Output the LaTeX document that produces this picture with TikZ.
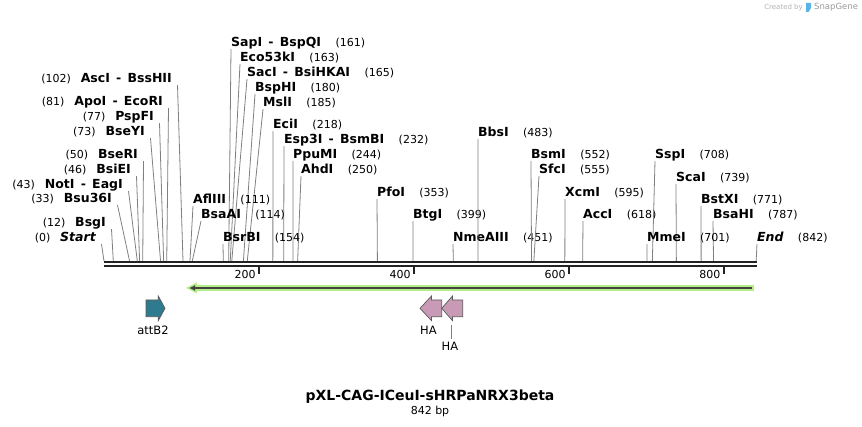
\documentclass[tikz,border=0pt]{standalone}
\usepackage{fontspec}
\setmainfont{DejaVu Sans}
\usetikzlibrary{arrows.meta}
\definecolor{attcol}{HTML}{2E7B8F}
\definecolor{hacol}{HTML}{C99AB5}
\definecolor{orfgreen}{HTML}{B4EE86}
\definecolor{seqline}{HTML}{222222}
\definecolor{snapblue}{HTML}{5AB4E6}
\begin{document}
\begin{tikzpicture}[x=1pt,y=-1pt,
    enz/.style={font=\bfseries\fontsize{12.5}{14}\selectfont,inner sep=0pt},
    num/.style={font=\fontsize{11}{13}\selectfont,inner sep=0pt},
    cut/.style={black!50,line width=0.8pt},
    feat/.style={draw=black!65,line width=0.7pt}]
\useasboundingbox (0,0) rectangle (862,427);
    %Marca de agua
    \node[font=\fontsize{7}{8}\selectfont,text=black!30,anchor=east,inner sep=0pt] (cby) at (803,7.5) {Created by};
    \fill[snapblue] (806,3) -- (811,3) -- (811,8) -- (808.5,12) -- (806,12) -- cycle;
    \node[font=\fontsize{8.5}{10}\selectfont,text=black!40,anchor=west,inner sep=0pt] (sg) at (814,7.5) {SnapGene};

    %Secuencia
    \draw[seqline,line width=2.8pt] (104,262) -- (757,262);
    \draw[seqline,line width=2.8pt] (104,266) -- (757,266);
    \foreach \t in {200,400,600,800}{
        \coordinate (t\t) at ({104+0.7745*\t},266);
        \draw[seqline,line width=1.8pt] (t\t) -- ++(0,8);
        \node[num,anchor=east] (tl\t) at ([xshift=-3pt,yshift=-8pt]t\t) {\t};
    }

    %Sitios con nombre a la izquierda
    \foreach \bp/\rx/\ly/\nm in {102/172/78/{AscI\enspace-\enspace BssHII},
        81/163/101/{ApoI\enspace-\enspace EcoRI},77/154/116/PspFI,73/145/131/BseYI,
        50/138/154/BseRI,46/131/169/BsiEI,43/123/184/{NotI\enspace-\enspace EagI},
        33/112/198/Bsu36I,12/106/222/BsgI,0/96/237/{\itshape Start}}{
        \node[enz,anchor=base east] (e\bp) at (\rx,\ly+4.6) {\nm};
        \node[num,anchor=base east] (p\bp) at ([xshift=-9.5pt]e\bp.base west) {(\bp)};
        \coordinate (c\bp) at ({104+0.7745*\bp},261);
        \draw[cut] ([xshift=5.5pt,yshift=-2.5pt]e\bp.base east) -- (c\bp);
    }

    %Sitios con nombre a la derecha
    \foreach \bp/\lx/\ly/\nm in {161/231/42/{SapI\enspace-\enspace BspQI},163/240/57/Eco53kI,
        165/247/72/{SacI\enspace-\enspace BsiHKAI},180/255/87/BspHI,185/263/102/MslI,
        218/273/124/EciI,232/284/139/{Esp3I\enspace-\enspace BsmBI},244/293/154/PpuMI,
        250/301/169/AhdI,111/193/199/AflIII,114/201/214/BsaAI,154/223/237/BsrBI,
        353/377/192/PfoI,399/413/214/BtgI,451/453/237/NmeAIII,483/478/132/BbsI,
        552/531/154/BsmI,555/539/169/SfcI,595/565/192/XcmI,618/583/214/AccI,
        708/655/154/SspI,739/676/177/ScaI,771/701/199/BstXI,787/713/214/BsaHI,
        701/647/237/MmeI,842/757/237/{\itshape End}}{
        \node[enz,anchor=base west] (e\bp) at (\lx,\ly+4.6) {\nm};
        \node[num,anchor=base west] (p\bp) at ([xshift=14pt]e\bp.base east) {(\bp)};
        \coordinate (c\bp) at ({104+0.7745*\bp},261);
        \draw[cut] ([yshift=-2.5pt]e\bp.base west) -- (c\bp);
    }

    %ORF
    \fill[orfgreen] (186,288) -- (197,282.5) -- (197,293.5) -- cycle;
    \draw[orfgreen,line width=6pt] (195,288) -- (753.5,288);
    \draw[seqline!85,line width=2.2pt,-{Latex[length=6pt,width=6pt]}] (751.5,288) -- (189,288);

    %Features
    \filldraw[feat,fill=attcol] (146,300) -- (158.3,300) -- (158.3,296) -- (165,308.3)
        -- (158.3,320.7) -- (158.3,316.7) -- (146,316.7) -- cycle;
    \node[font=\fontsize{11.5}{13}\selectfont,inner sep=0pt] (attlbl) at (153,330) {attB2};
    \filldraw[feat,fill=hacol] (420,308.3) -- (431.5,296) -- (431.5,300) -- (441.7,300)
        -- (441.7,316.7) -- (431.5,316.7) -- (431.5,320.7) -- cycle;
    \filldraw[feat,fill=hacol] (441.7,308.3) -- (452.5,296) -- (452.5,300) -- (462.7,300)
        -- (462.7,316.7) -- (452.5,316.7) -- (452.5,320.7) -- cycle;
    \node[font=\fontsize{11.5}{13}\selectfont,inner sep=0pt] (ha1lbl) at (428.5,330) {HA};
    \node[font=\fontsize{11.5}{13}\selectfont,inner sep=0pt] (ha2lbl) at (450,346) {HA};
    \coordinate (ha2) at (451.5,325);
    \draw[black!50,line width=0.8pt,shorten >=3pt] (ha2) -- (ha2 |- ha2lbl.north);

    %Titulo
    \node[font=\bfseries\fontsize{14}{16}\selectfont,inner sep=0pt] (title) at (430,397) {pXL-CAG-ICeuI-sHRPaNRX3beta};
    \node[font=\fontsize{11}{13}\selectfont,inner sep=0pt] (bp) at (430,411) {842 bp};
\end{tikzpicture}
\end{document}
